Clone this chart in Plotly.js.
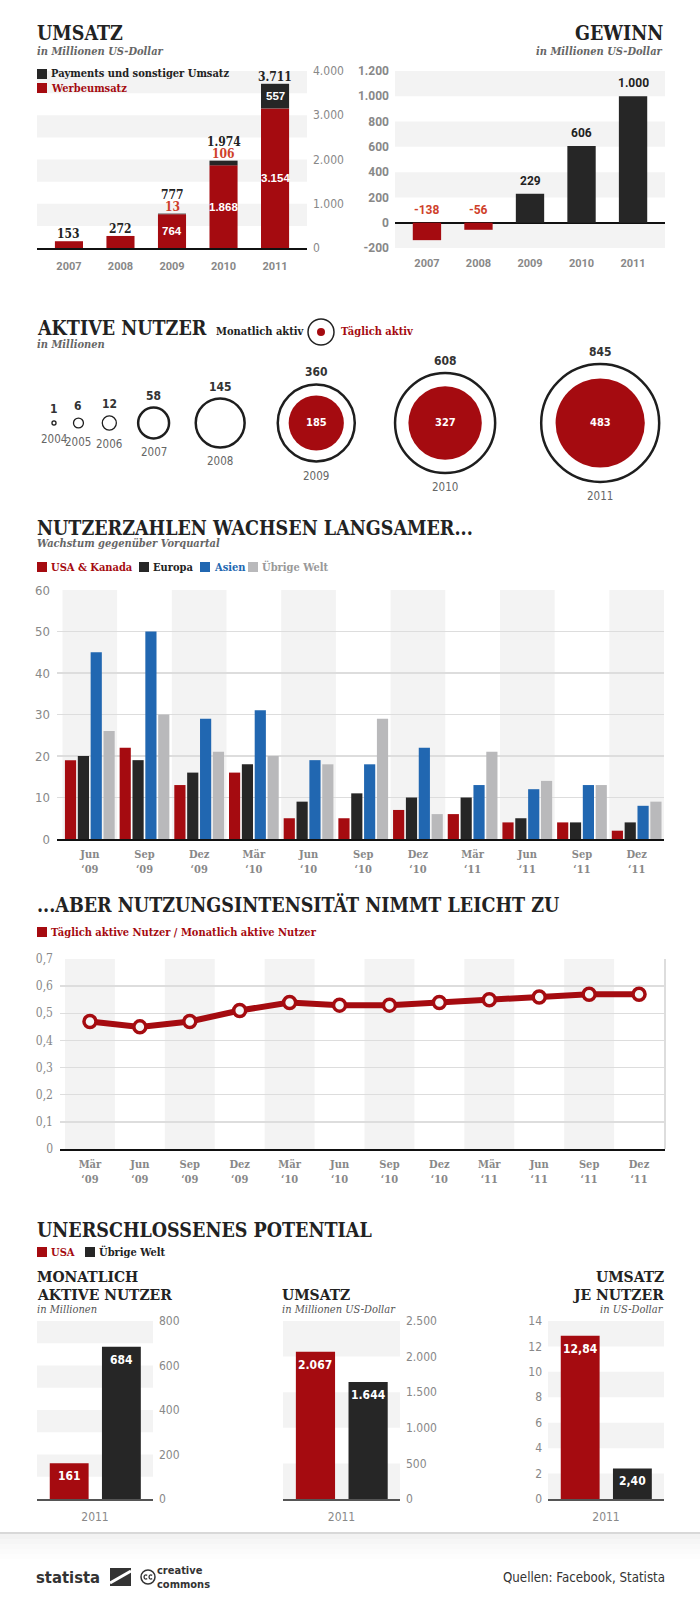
<!DOCTYPE html>
<html><head><meta charset="utf-8">
<script src="https://cdn.plot.ly/plotly-3.0.1.min.js"></script>
<style>html,body{margin:0;padding:0;background:#fff}#chart{width:700px;height:1606px}</style>
</head><body><div id="chart"></div>
<script>
// ---------------- DATA ----------------
const years = ['2007', '2008', '2009', '2010', '2011'];
const werbeumsatz = [153, 272, 764, 1868, 3154];
const paymentsUmsatz = [0, 0, 13, 106, 557];
const gewinn = [-138, -56, 229, 606, 1000];

const nutzerJahre = ['2004', '2005', '2006', '2007', '2008', '2009', '2010', '2011'];
const monatlichAktiv = [1, 6, 12, 58, 145, 360, 608, 845];
const taeglichAktiv = [null, null, null, null, null, 185, 327, 483];

const quartale = ['Jun<br>‘09', 'Sep<br>‘09', 'Dez<br>‘09', 'Mär<br>‘10', 'Jun<br>‘10', 'Sep<br>‘10',
  'Dez<br>‘10', 'Mär<br>‘11', 'Jun<br>‘11', 'Sep<br>‘11', 'Dez<br>‘11'];
const wachstumUSA = [19, 22, 13, 16, 5, 5, 7, 6, 4, 4, 2];
const wachstumEuropa = [20, 19, 16, 18, 9, 11, 10, 10, 5, 4, 4];
const wachstumAsien = [45, 50, 29, 31, 19, 18, 22, 13, 12, 13, 8];
const wachstumUebrige = [26, 30, 21, 20, 18, 29, 6, 21, 14, 13, 9];

const quartaleDAU = ['Mär<br>‘09', 'Jun<br>‘09', 'Sep<br>‘09', 'Dez<br>‘09', 'Mär<br>‘10', 'Jun<br>‘10',
  'Sep<br>‘10', 'Dez<br>‘10', 'Mär<br>‘11', 'Jun<br>‘11', 'Sep<br>‘11', 'Dez<br>‘11'];
const dauMau = [0.47, 0.45, 0.47, 0.51, 0.54, 0.53, 0.53, 0.54, 0.55, 0.56, 0.57, 0.57];

const potJahr = ['2011'];
const mauUSA = [161], mauWelt = [684];
const umsatzUSA = [2067], umsatzWelt = [1644];
const arpuUSA = [12.84], arpuWelt = [2.40];

// ---------------- STYLE ----------------
const RED = '#a50b10', BLACK = '#262626', BLUE = '#2167b1', GREY = '#b9b9bb', LRED = '#cf3f2b';
const BAND = '#f3f3f3', GRID = '#dddddd';
const SLAB = '"DejaVu Serif Condensed", "DejaVu Serif", serif';
const SANS = 'Roboto, "DejaVu Sans", sans-serif';
const COND = '"DejaVu Sans Condensed", "Liberation Sans Narrow", "DejaVu Sans", sans-serif';
const NARROW = '"Liberation Sans Narrow", "DejaVu Sans Condensed", sans-serif';
const LAB = '"Liberation Sans", Arial, sans-serif';
const TSIZE = 19.5;

const W = 700, H = 1606;
const PX = x => x / W, PY = y => 1 - y / H;
const dx = (a, b) => [a / W, b / W];
const dy = (t, b) => [1 - b / H, 1 - t / H];

function fmt(v, dec) {
  dec = dec || 0;
  const neg = v < 0;
  const s = Math.abs(v).toFixed(dec);
  let [i, d] = s.split('.');
  i = i.replace(/\B(?=(\d{3})+(?!\d))/g, '.');
  return (neg ? '-' : '') + i + (d ? ',' + d : '');
}
function range(a, b, step) { const r = []; for (let v = a; v <= b + 1e-9; v += step) r.push(+v.toFixed(6)); return r; }

const annotations = [], shapes = [];
function txt(text, x, y, o) {
  annotations.push(Object.assign({
    text, x: PX(x), y: PY(y), xref: 'paper', yref: 'paper', showarrow: false,
    xanchor: 'left', yanchor: 'middle', font: {family: SLAB, size: 11, color: '#222'}
  }, o || {}));
}
function box(x0, y0, x1, y1, color) {
  shapes.push({type: 'rect', xref: 'paper', yref: 'paper', x0: PX(x0), x1: PX(x1), y0: PY(y1), y1: PY(y0),
    fillcolor: color, line: {width: 0}, layer: 'above'});
}
function hBands(xa, ya, pairs) {
  pairs.forEach(p => shapes.push({type: 'rect', xref: xa + ' domain', yref: ya, x0: 0, x1: 1, y0: p[0], y1: p[1],
    fillcolor: BAND, line: {width: 0}, layer: 'below'}));
}
function vBands(xa, ya, n) {
  for (let i = 0; i < n; i += 2) shapes.push({type: 'rect', xref: xa, yref: ya + ' domain', x0: i - 0.5, x1: i + 0.5,
    y0: 0, y1: 1, fillcolor: BAND, line: {width: 0}, layer: 'below'});
}
function legendItem(x, y, color, label, textColor) {
  box(x, y - 5, x + 10, y + 5, color);
  txt('<b>' + label + '</b>', x + 12, y, {font: {family: SLAB, size: 11, color: textColor}});
}
function dataAnn(xa, ya, x, y, text, o) {
  annotations.push(Object.assign({text, x, y, xref: xa, yref: ya, showarrow: false, xanchor: 'center',
    yanchor: 'bottom', font: {family: SLAB, size: 12, color: '#222'}}, o || {}));
}

const traces = [];
const noHover = {hoverinfo: 'skip'};

// ================= 1. UMSATZ =================
txt('<b>UMSATZ</b>', 35, 34, {font: {family: SLAB, size: TSIZE, color: '#222'}});
txt('<b><i>in Millionen US-Dollar</i></b>', 35, 51, {font: {family: SLAB, size: 11, color: '#666'}});
legendItem(37, 74, BLACK, 'Payments und sonstiger Umsatz', '#222');
legendItem(37, 88, RED, 'Werbeumsatz', RED);
hBands('x', 'y', [[500, 1000], [1500, 2000], [2500, 3000], [3500, 4000]]);
traces.push(Object.assign({type: 'bar', x: years, y: werbeumsatz, xaxis: 'x', yaxis: 'y',
  marker: {color: RED}, width: 0.545, offset: -0.2725}, noHover));
traces.push(Object.assign({type: 'bar', x: years, y: paymentsUmsatz, base: werbeumsatz, xaxis: 'x', yaxis: 'y',
  marker: {color: BLACK}, width: 0.545, offset: -0.2725}, noHover));
const inFont = {family: LAB, size: 11.5, color: '#fff'};
years.forEach((yr, i) => {
  const w = werbeumsatz[i], p = paymentsUmsatz[i], tot = w + p;
  const bold = s => '<b>' + s + '</b>';
  if (p === 0) {
    dataAnn('x', 'y', i, tot, bold(fmt(tot)), {yshift: -2});
  } else if (p < 300) {
    dataAnn('x', 'y', i, tot, bold(fmt(p)), {yshift: -2, font: {family: SLAB, size: 12, color: LRED}});
    dataAnn('x', 'y', i, tot, bold(fmt(tot)), {yshift: 10});
  } else {
    dataAnn('x', 'y', i, w + p / 2, bold(fmt(p)), {yanchor: 'middle', font: inFont});
    dataAnn('x', 'y', i, tot, bold(fmt(tot)), {yshift: -2});
  }
  if (p > 0) dataAnn('x', 'y', i, w / 2, bold(fmt(w)), {yanchor: 'middle', font: inFont});
});

// ================= 2. GEWINN =================
txt('<b>GEWINN</b>', 665, 34, {xanchor: 'right', font: {family: SLAB, size: TSIZE, color: '#222'}});
txt('<b><i>in Millionen US-Dollar</i></b>', 665, 51, {xanchor: 'right', font: {family: SLAB, size: 11, color: '#666'}});
hBands('x2', 'y2', [[-200, 0], [200, 400], [600, 800], [1000, 1200]]);
traces.push(Object.assign({type: 'bar', x: years, y: gewinn, xaxis: 'x2', yaxis: 'y2',
  marker: {color: gewinn.map(v => v < 0 ? RED : BLACK)}, width: 0.55, offset: -0.275}, noHover));
years.forEach((yr, i) => {
  const v = gewinn[i];
  dataAnn('x2', 'y2', i, Math.max(v, 0), '<b>' + fmt(v) + '</b>',
    {yshift: 4, font: {family: SANS, size: 12, color: v < 0 ? LRED : '#222'}});
});

// ================= 3. AKTIVE NUTZER =================
txt('<b>AKTIVE NUTZER</b>', 35, 328, {font: {family: SLAB, size: TSIZE, color: '#222'}});
txt('<b>Monatlich aktiv</b>', 214, 332, {font: {family: SLAB, size: 11, color: '#222'}});
shapes.push({type: 'circle', xref: 'paper', yref: 'paper', x0: PX(308), x1: PX(334), y0: PY(345), y1: PY(319),
  line: {color: '#222', width: 1.5}, fillcolor: '#fff'});
shapes.push({type: 'circle', xref: 'paper', yref: 'paper', x0: PX(317), x1: PX(325), y0: PY(336), y1: PY(328),
  line: {width: 0}, fillcolor: RED});
txt('<b>Täglich aktiv</b>', 339, 332, {font: {family: SLAB, size: 11, color: RED}});
txt('<b><i>in Millionen</i></b>', 35, 345, {font: {family: SLAB, size: 11, color: '#666'}});

const RMAX = 59;
const vmax = Math.max(...monatlichAktiv);
const rad = v => RMAX * Math.sqrt(v / vmax);
const cx = [];
monatlichAktiv.forEach((v, i) => {
  if (i === 0) cx.push(54);
  else {
    const s = rad(monatlichAktiv[i - 1]) + rad(v);
    cx.push(cx[i - 1] + s * 1.28 + 15.5);
  }
});
traces.push(Object.assign({type: 'scatter', mode: 'markers', x: cx, y: cx.map(() => 0), xaxis: 'x3', yaxis: 'y3',
  cliponaxis: false,
  marker: {size: monatlichAktiv.map(v => 2 * rad(v)), color: '#fff', opacity: 1,
    line: {color: '#1e1e1e', width: monatlichAktiv.map(v => rad(v) > 10 ? 2.5 : 1.3)}}}, noHover));
const dIdx = taeglichAktiv.map((v, i) => v == null ? -1 : i).filter(i => i >= 0);
traces.push(Object.assign({type: 'scatter', mode: 'markers', x: dIdx.map(i => cx[i]), y: dIdx.map(() => 0),
  xaxis: 'x3', yaxis: 'y3', cliponaxis: false,
  marker: {size: dIdx.map(i => 2 * rad(taeglichAktiv[i])), color: RED, opacity: 1, line: {width: 0}}}, noHover));
monatlichAktiv.forEach((v, i) => {
  const r = rad(v);
  dataAnn('x3', 'y3', cx[i], 0, '<b>' + fmt(v) + '</b>', {yanchor: 'middle', yshift: r + 12,
    font: {family: COND, size: 12, color: '#333'}});
  dataAnn('x3', 'y3', cx[i], 0, nutzerJahre[i], {yanchor: 'middle', yshift: -(r + 14),
    font: {family: COND, size: 11.5, color: '#666'}});
});
dIdx.forEach(i => dataAnn('x3', 'y3', cx[i], 0, '<b>' + fmt(taeglichAktiv[i]) + '</b>',
  {yanchor: 'middle', font: {family: COND, size: 11, color: '#fff'}}));

// ================= 4. NUTZERZAHLEN =================
txt('<b>NUTZERZAHLEN WACHSEN LANGSAMER...</b>', 35, 528, {font: {family: SLAB, size: TSIZE, color: '#222'}});
txt('<b><i>Wachstum gegenüber Vorquartal</i></b>', 35, 543, {font: {family: SLAB, size: 11, color: '#666'}});
legendItem(37, 567, RED, 'USA &amp; Kanada', RED);
legendItem(139, 567, BLACK, 'Europa', '#222');
legendItem(200, 567, BLUE, 'Asien', BLUE);
legendItem(248, 567, GREY, 'Übrige Welt', '#999');
vBands('x4', 'y4', quartale.length);
[[wachstumUSA, RED], [wachstumEuropa, BLACK], [wachstumAsien, BLUE], [wachstumUebrige, GREY]].forEach(s => {
  traces.push(Object.assign({type: 'bar', x: quartale, y: s[0], xaxis: 'x4', yaxis: 'y4', marker: {color: s[1]}}, noHover));
});

// ================= 5. NUTZUNGSINTENSITÄT =================
txt('<b>...ABER NUTZUNGSINTENSITÄT NIMMT LEICHT ZU</b>', 35, 905, {font: {family: SLAB, size: TSIZE, color: '#222'}});
legendItem(37, 932, RED, 'Täglich aktive Nutzer / Monatlich aktive Nutzer', RED);
vBands('x5', 'y5', quartaleDAU.length);
shapes.push({type: 'line', xref: 'x5 domain', yref: 'y5 domain', x0: 1, x1: 1, y0: 0, y1: 1,
  line: {color: GRID, width: 2}, layer: 'below'});
traces.push(Object.assign({type: 'scatter', mode: 'lines+markers', x: quartaleDAU, y: dauMau, xaxis: 'x5', yaxis: 'y5',
  line: {color: RED, width: 6}, marker: {size: 12, color: '#f6f6f6', opacity: 1, line: {color: RED, width: 3.5}}}, noHover));

// ================= 6. POTENTIAL =================
txt('<b>UNERSCHLOSSENES POTENTIAL</b>', 35, 1230, {font: {family: SLAB, size: TSIZE, color: '#222'}});
legendItem(37, 1252, RED, 'USA', RED);
legendItem(85, 1252, BLACK, 'Übrige Welt', '#222');
const subT = {family: SLAB, size: 15.5, color: '#222'};
const subI = {family: SLAB, size: 11, color: '#555'};
txt('<b>MONATLICH</b>', 35, 1276, {font: subT});
txt('<b>AKTIVE NUTZER</b>', 35, 1294, {font: subT});
txt('<i>in Millionen</i>', 35, 1309, {font: subI});
txt('<b>UMSATZ</b>', 280, 1294, {font: subT});
txt('<i>in Millionen US-Dollar</i>', 280, 1309, {font: subI});
txt('<b>UMSATZ</b>', 666, 1276, {xanchor: 'right', font: subT});
txt('<b>JE NUTZER</b>', 666, 1294, {xanchor: 'right', font: subT});
txt('<i>in US-Dollar</i>', 666, 1309, {xanchor: 'right', font: subI});

hBands('x6', 'y6', [[100, 200], [300, 400], [500, 600], [700, 800]]);
hBands('x7', 'y7', [[0, 500], [1000, 1500], [2000, 2500]]);
hBands('x8', 'y8', [[0, 2], [4, 6], [8, 10], [12, 14]]);
[['6', mauUSA, mauWelt, 0], ['7', umsatzUSA, umsatzWelt, 0], ['8', arpuUSA, arpuWelt, 2]].forEach(c => {
  const xa = 'x' + c[0], ya = 'y' + c[0];
  traces.push(Object.assign({type: 'bar', x: potJahr, y: c[1], xaxis: xa, yaxis: ya, marker: {color: RED},
    width: 0.335, offset: -0.39}, noHover));
  traces.push(Object.assign({type: 'bar', x: potJahr, y: c[2], xaxis: xa, yaxis: ya, marker: {color: BLACK},
    width: 0.335, offset: 0.06}, noHover));
  [[c[1], -0.39], [c[2], 0.06]].forEach(b => {
    annotations.push({text: '<b>' + fmt(b[0][0], c[3]) + '</b>', x: 0 + b[1] + 0.335 / 2, y: b[0][0], xref: xa, yref: ya,
      showarrow: false, xanchor: 'center', yanchor: 'top', yshift: -4,
      font: {family: COND, size: 12, color: '#fff'}});
  });
});

// ================= FOOTER =================
shapes.push({type: 'line', xref: 'paper', yref: 'paper', x0: 0, x1: 1, y0: PY(1533), y1: PY(1533),
  line: {color: '#d8d8d8', width: 2}});
[0.05, 0.035, 0.025, 0.015, 0.007].forEach((o, k) => {
  shapes.push({type: 'rect', xref: 'paper', yref: 'paper', x0: 0, x1: 1, y0: PY(1539 + k * 5), y1: PY(1534 + k * 5),
    fillcolor: 'rgba(0,0,0,' + o + ')', line: {width: 0}});
});
txt('<b>statista</b>', 34, 1577, {font: {family: NARROW, size: 16.5, color: '#333'}});
shapes.push({type: 'path', xref: 'paper', yref: 'paper',
  path: 'M' + PX(110) + ',' + PY(1586) + ' L' + PX(131) + ',' + PY(1586) + ' L' + PX(131) + ',' + PY(1568) +
    ' L' + PX(110) + ',' + PY(1568) + ' Z', fillcolor: '#333', line: {width: 0}});
shapes.push({type: 'line', xref: 'paper', yref: 'paper', x0: PX(110), y0: PY(1583), x1: PX(131), y1: PY(1571),
  line: {color: '#fff', width: 3}});
shapes.push({type: 'circle', xref: 'paper', yref: 'paper', x0: PX(141), x1: PX(155), y0: PY(1584), y1: PY(1570),
  line: {color: '#333', width: 1.5}});
// the two small "c" glyphs of the cc logo
[145.6, 150.6].forEach(c => {
  const p = (x, y) => PX(x) + ',' + PY(y);
  shapes.push({type: 'path', xref: 'paper', yref: 'paper',
    path: 'M' + p(c + 1.6, 1575.3) + ' C' + p(c - 2.6, 1573.4) + ' ' + p(c - 2.6, 1580.6) + ' ' + p(c + 1.6, 1578.7),
    line: {color: '#333', width: 1.3}});
});
txt('<b>creative<br>commons</b>', 155, 1577, {align: 'left', font: {family: NARROW, size: 11, color: '#333'}});
txt('Quellen: Facebook, Statista', 667, 1577, {xanchor: 'right', font: {family: NARROW, size: 13.2, color: '#333'}});

// ================= AXES =================
const xCat = (dom, rng, anchor, o) => Object.assign({domain: dom, range: rng, type: 'category', anchor,
  showgrid: false, zeroline: false, showline: false, ticks: '', fixedrange: true}, o || {});
const yLin = (dom, rng, anchor, vals, dec, o) => Object.assign({domain: dom, range: rng, anchor,
  showgrid: false, zeroline: false, showline: false, ticks: '', fixedrange: true,
  tickvals: vals, ticktext: vals.map(v => v === 0 ? '0' : fmt(v, dec))}, o || {});
const yearTick = {family: SANS, size: 11, color: '#888', weight: 'bold'};
const slabTick = {family: SLAB, size: 11, color: '#888', weight: 'bold'};
const numTick = {family: COND, size: 12, color: '#888'};

const layout = {
  width: W, height: H, margin: {l: 0, r: 0, t: 0, b: 0}, paper_bgcolor: '#fff', plot_bgcolor: 'rgba(0,0,0,0)',
  showlegend: false, hovermode: false, barmode: 'group', bargap: 0.06, bargroupgap: 0.13,
  annotations, shapes,
  xaxis: xCat(dx(37, 307), [-0.62, 4.62], 'y', {showline: true, linecolor: '#111', linewidth: 2, tickfont: yearTick, ticklabelstandoff: 7}),
  yaxis: yLin(dy(71, 248), [0, 4000], 'x', range(0, 4000, 1000), 0, {side: 'right', tickfont: numTick, ticklabelstandoff: 5}),
  xaxis2: xCat(dx(395, 665), [-0.62, 4.62], 'y2', {tickfont: yearTick, ticklabelstandoff: 7}),
  yaxis2: yLin(dy(71, 248), [-200, 1200], 'x2', range(-200, 1200, 200), 0,
    {tickfont: {family: SANS, size: 12, color: '#888', weight: 'bold'}, zeroline: true, zerolinecolor: '#111', zerolinewidth: 2, ticklabelstandoff: 5}),
  xaxis3: {domain: [0, 1], range: [0, W], anchor: 'y3', visible: false, fixedrange: true},
  yaxis3: {domain: dy(340, 506), range: [-1, 1], anchor: 'x3', visible: false, fixedrange: true},
  xaxis4: xCat(dx(57, 664), [-0.6, 10.5], 'y4', {showline: true, linecolor: '#111', linewidth: 2, tickfont: slabTick, ticklabelstandoff: 4}),
  yaxis4: yLin(dy(590, 839), [0, 60], 'x4', range(0, 60, 10), 0,
    {showgrid: true, gridcolor: GRID, gridwidth: 1.5, tickfont: {family: COND, size: 13, color: '#888'}, ticklabelstandoff: 6}),
  xaxis5: xCat(dx(60, 665), [-0.6, 11.52], 'y5', {showline: true, linecolor: '#111', linewidth: 2, tickfont: slabTick, ticklabelstandoff: 4}),
  yaxis5: yLin(dy(959, 1149), [0, 0.7], 'x5', range(0, 0.7, 0.1), 1,
    {showgrid: true, gridcolor: GRID, gridwidth: 1.5, tickfont: {family: SLAB, size: 12, color: '#888'}, ticklabelstandoff: 6}),
  xaxis6: xCat(dx(37, 153), [-0.5, 0.5], 'y6', {showline: true, linecolor: '#555', linewidth: 2, tickfont: numTick, ticklabelstandoff: 6}),
  yaxis6: yLin(dy(1321, 1499), [0, 800], 'x6', range(0, 800, 200), 0, {side: 'right', tickfont: numTick, ticklabelstandoff: 5}),
  xaxis7: xCat(dx(283, 400), [-0.5, 0.5], 'y7', {showline: true, linecolor: '#555', linewidth: 2, tickfont: numTick, ticklabelstandoff: 6}),
  yaxis7: yLin(dy(1321, 1499), [0, 2500], 'x7', range(0, 2500, 500), 0, {side: 'right', tickfont: numTick, ticklabelstandoff: 5}),
  xaxis8: xCat(dx(548, 664), [-0.5, 0.5], 'y8', {showline: true, linecolor: '#555', linewidth: 2, tickfont: numTick, ticklabelstandoff: 6}),
  yaxis8: yLin(dy(1321, 1499), [0, 14], 'x8', range(0, 14, 2), 0, {side: 'left', tickfont: numTick, ticklabelstandoff: 5})
};

Plotly.newPlot('chart', traces, layout, {displayModeBar: false, staticPlot: true});
</script>
</body></html>
